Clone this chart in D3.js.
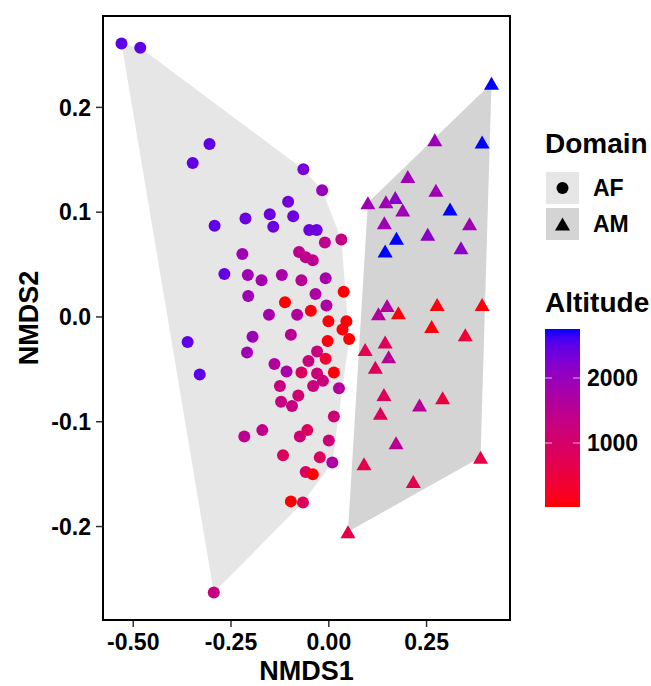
<!DOCTYPE html>
<html><head><meta charset="utf-8">
<script src="https://cdn.jsdelivr.net/npm/d3@7"></script>
<style>
body{margin:0;background:#fff;}
text{font-family:"Liberation Sans",Arial,sans-serif;font-weight:bold;}
</style></head>
<body><svg id="chart" width="651" height="686"></svg>
<script>
// AF samples (circles)
const afX = [-0.530,-0.482,-0.305,-0.348,-0.065,-0.104,-0.151,-0.091,-0.213,-0.292,-0.142,-0.050,-0.031,-0.017,-0.221,-0.076,-0.059,-0.041,-0.010,0.032,-0.267,-0.207,-0.172,-0.120,-0.070,-0.008,-0.206,-0.112,-0.034,0.038,-0.006,-0.046,-0.153,-0.081,-0.001,0.045,0.035,0.052,-0.003,-0.361,-0.195,-0.097,-0.209,-0.030,-0.052,-0.008,-0.330,-0.139,-0.108,-0.070,-0.030,0.013,-0.015,-0.125,-0.078,-0.040,0.026,-0.122,-0.094,0.013,-0.216,-0.170,-0.074,-0.055,0.000,-0.117,-0.023,0.009,-0.059,-0.041,-0.097,-0.066,-0.294];
const afY = [0.261,0.257,0.165,0.147,0.141,0.110,0.098,0.096,0.094,0.087,0.086,0.083,0.083,0.121,0.060,0.062,0.057,0.054,0.071,0.074,0.041,0.040,0.035,0.040,0.035,0.037,0.020,0.014,0.022,0.024,0.011,0.006,0.002,0.002,-0.004,-0.004,-0.012,-0.021,-0.023,-0.024,-0.019,-0.017,-0.034,-0.033,-0.042,-0.040,-0.055,-0.045,-0.052,-0.053,-0.054,-0.053,-0.061,-0.066,-0.075,-0.066,-0.068,-0.081,-0.085,-0.095,-0.114,-0.108,-0.114,-0.108,-0.118,-0.132,-0.134,-0.139,-0.148,-0.150,-0.176,-0.177,-0.263];
const afAlt = [2480,2480,2480,2480,2300,2350,2400,2400,2400,2480,2400,2400,2400,2000,1900,1450,1450,1450,1450,1350,2450,1900,1850,1800,1500,1800,1900,15,1700,30,1700,60,1800,1650,60,30,40,30,80,2480,1950,1500,1900,1250,1250,400,2480,1650,1750,900,1200,50,1200,1250,1100,1250,1600,1300,1300,1150,1450,1400,1150,850,1200,900,850,1700,900,60,30,800,1300];
// AM samples (triangles)
const amX = [0.416,0.271,0.392,0.202,0.274,0.100,0.170,0.146,0.189,0.310,0.360,0.142,0.253,0.173,0.338,0.144,0.149,0.127,0.178,0.277,0.392,0.263,0.349,0.093,0.144,0.153,0.119,0.141,0.232,0.291,0.132,0.172,0.090,0.216,0.388,0.049];
const amY = [0.223,0.169,0.167,0.134,0.121,0.109,0.114,0.110,0.102,0.103,0.089,0.090,0.079,0.075,0.066,0.063,0.011,0.003,0.004,0.012,0.012,-0.009,-0.017,-0.031,-0.024,-0.038,-0.048,-0.074,-0.084,-0.077,-0.092,-0.120,-0.140,-0.157,-0.134,-0.205];
const amAlt = [2754,1950,2754,1900,1900,1900,2150,1900,1900,2754,1900,1900,2150,2754,2150,2754,1650,1600,60,60,60,60,400,700,800,1550,800,800,1550,500,800,1500,700,700,600,600];

const domains = ["AF","AM"];
const xTicks = [-0.50,-0.25,0.00,0.25];
const yTicks = [-0.2,-0.1,0.0,0.1,0.2];
const altTicks = [1000,2000];

const svg = d3.select("#chart");
const P = {l:103, r:510, t:16, b:620};

const af = afX.map((x,i)=>({x, y:afY[i], alt:afAlt[i], d:"AF"}));
const am = amX.map((x,i)=>({x, y:amY[i], alt:amAlt[i], d:"AM"}));
const all = af.concat(am);

function expand(ext){const p=(ext[1]-ext[0])*0.05;return [ext[0]-p, ext[1]+p];}
const x = d3.scaleLinear().domain(expand(d3.extent(all,d=>d.x))).range([P.l,P.r]);
const y = d3.scaleLinear().domain(expand(d3.extent(all,d=>d.y))).range([P.b,P.t]);
const altExt = d3.extent(all,d=>d.alt);
const color = d3.scaleLinear().domain(altExt).range(["red","blue"]).interpolate(d3.interpolateLab);

// hulls
const hullFill = {AF:"#e6e6e6", AM:"#d4d4d4"};
[af,am].forEach(g=>{
  const h = d3.polygonHull(g.map(d=>[x(d.x),y(d.y)]));
  svg.append("path").attr("d","M"+h.join("L")+"Z").attr("fill",hullFill[g[0].d]);
});

// points
svg.append("g").selectAll("circle").data(af).join("circle")
  .attr("cx",d=>x(d.x)).attr("cy",d=>y(d.y)).attr("r",6).attr("fill",d=>color(d.alt));
const tri = (cx,cy,w,h)=>`M${cx},${cy-h/2}L${cx+w/2},${cy+h/2}L${cx-w/2},${cy+h/2}Z`;
svg.append("g").selectAll("path").data(am).join("path")
  .attr("d",d=>tri(x(d.x),y(d.y),15,13)).attr("fill",d=>color(d.alt));

// panel border
svg.append("rect").attr("x",P.l).attr("y",P.t).attr("width",P.r-P.l).attr("height",P.b-P.t)
  .attr("fill","none").attr("stroke","#000").attr("stroke-width",2);

// axes
const xa = svg.append("g");
xTicks.forEach(t=>{
  xa.append("line").attr("x1",x(t)).attr("x2",x(t)).attr("y1",P.b+1).attr("y2",P.b+7).attr("stroke","#333").attr("stroke-width",1.5);
  xa.append("text").attr("x",x(t)).attr("y",P.b+30).attr("text-anchor","middle").attr("font-size",23).attr("fill","#000").text(d3.format(".2f")(t).replace("−","-"));
});
const ya = svg.append("g");
yTicks.forEach(t=>{
  ya.append("line").attr("x1",P.l-7).attr("x2",P.l-1).attr("y1",y(t)).attr("y2",y(t)).attr("stroke","#333").attr("stroke-width",1.5);
  ya.append("text").attr("x",P.l-12).attr("y",y(t)).attr("dy","0.36em").attr("text-anchor","end").attr("font-size",23).attr("fill","#000").text(d3.format(".1f")(t).replace("−","-"));
});
svg.append("text").attr("x",(P.l+P.r)/2).attr("y",680).attr("text-anchor","middle").attr("font-size",27).text("NMDS1");
svg.append("text").attr("transform",`translate(38,${(P.t+P.b)/2}) rotate(-90)`).attr("text-anchor","middle").attr("font-size",27).text("NMDS2");

// legend: Domain
const lg = svg.append("g");
lg.append("text").attr("x",545).attr("y",153).attr("font-size",28).text("Domain");
domains.forEach((dname,i)=>{
  const ky = 172 + i*36;
  lg.append("rect").attr("x",546).attr("y",ky).attr("width",33).attr("height",32).attr("fill",hullFill[dname]);
  if(dname==="AF") lg.append("circle").attr("cx",562.5).attr("cy",ky+16).attr("r",6).attr("fill","#000");
  else lg.append("path").attr("d",tri(562.5,ky+16,15,13)).attr("fill","#000");
  lg.append("text").attr("x",593).attr("y",ky+16).attr("dy","0.36em").attr("font-size",23).text(dname);
});

// legend: Altitude colourbar
const cb = {x:545, w:35, t:329, b:507};
lg.append("text").attr("x",545).attr("y",312).attr("font-size",28).text("Altitude");
const grad = svg.append("defs").append("linearGradient").attr("id","g").attr("x1",0).attr("x2",0).attr("y1",1).attr("y2",0);
d3.range(0,1.0001,0.05).forEach(t=>{
  grad.append("stop").attr("offset",t).attr("stop-color",color(altExt[0]+t*(altExt[1]-altExt[0])));
});
lg.append("rect").attr("x",cb.x).attr("y",cb.t).attr("width",cb.w).attr("height",cb.b-cb.t).attr("fill","url(#g)");
const ca = d3.scaleLinear().domain(altExt).range([cb.b,cb.t]);
altTicks.forEach(t=>{
  lg.append("line").attr("x1",cb.x).attr("x2",cb.x+7).attr("y1",ca(t)).attr("y2",ca(t)).attr("stroke","#fff").attr("stroke-opacity",0.7);
  lg.append("line").attr("x1",cb.x+cb.w-7).attr("x2",cb.x+cb.w).attr("y1",ca(t)).attr("y2",ca(t)).attr("stroke","#fff").attr("stroke-opacity",0.7);
  lg.append("text").attr("x",587).attr("y",ca(t)).attr("dy","0.36em").attr("font-size",23).text(t);
});
</script></body></html>
